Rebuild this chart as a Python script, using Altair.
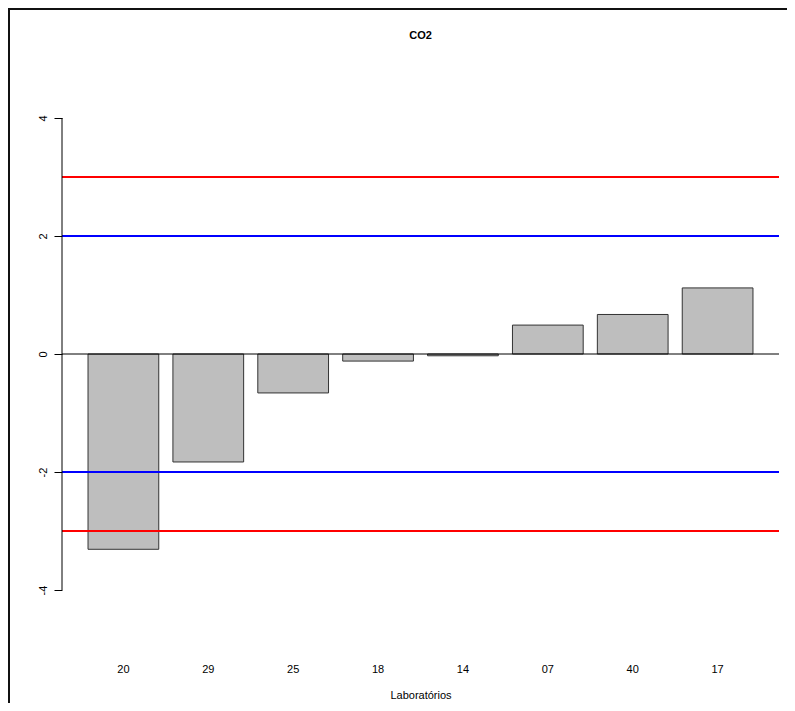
import altair as alt
import pandas as pd

labs = ["20", "29", "25", "18", "14", "07", "40", "17"]
vals = [-3.31, -1.83, -0.66, -0.12, -0.03, 0.49, 0.67, 1.12]
ref_vals = [3, -3, 2, -2]
ref_cols = ["#FF0000", "#FF0000", "#0000FF", "#0000FF"]
y_ticks = [-4, -2, 0, 2, 4]
title_text = "CO2"

W, H = 717, 590
PL, PT = 54, 51
FONT = "Liberation Sans"

bars_df = pd.DataFrame({"lab": labs, "val": vals})
ref_df = pd.DataFrame({"v": ref_vals, "c": ref_cols})

yscale = alt.Scale(domain=[-5, 5], nice=False, zero=False)
xscale = alt.Scale(domain=labs, paddingInner=0.1667, paddingOuter=0.3066)

bars = alt.Chart(bars_df).mark_bar(
    fill="#BEBEBE", stroke="#333333", strokeWidth=1
).encode(
    x=alt.X("lab:N", scale=xscale, sort=labs,
            axis=alt.Axis(title="Laboratórios", domain=False, ticks=False,
                          labelAngle=0, labelPadding=14, labelFontSize=11,
                          labelFont=FONT, labelColor="#000000",
                          titleFont=FONT, titleFontSize=11, titleFontWeight="normal",
                          titleColor="#000000", titlePadding=15)),
    y=alt.Y("val:Q", scale=yscale,
            axis=alt.Axis(title=None, values=y_ticks, domain=False, grid=False,
                          tickSize=8, tickColor="#000000", tickWidth=1,
                          labelAngle=270, labelAlign="center", labelBaseline="alphabetic",
                          labelPadding=8, labelFontSize=11, labelFont=FONT,
                          labelColor="#000000",
                          labelExpr="datum.value + ''")),
    y2=alt.datum(0),
)

refs = alt.Chart(ref_df).mark_rule(strokeWidth=2).encode(
    y=alt.Y("v:Q", scale=yscale),
    color=alt.Color("c:N", scale=None),
)

zero = alt.Chart(pd.DataFrame({"z": [0]})).mark_rule(color="#000000", strokeWidth=1).encode(
    y=alt.Y("z:Q", scale=yscale)
)

yaxis_line = alt.Chart(pd.DataFrame({"a": [-4], "b": [4]})).mark_rule(
    color="#000000", strokeWidth=1
).encode(
    x=alt.value(0),
    y=alt.Y("a:Q", scale=yscale),
    y2="b:Q",
)

title_mark = alt.Chart(pd.DataFrame({"t": [title_text]})).mark_text(
    font=FONT, fontSize=11, fontWeight="bold", color="#000000",
    align="center", baseline="middle"
).encode(
    x=alt.value(W / 2), y=alt.value(-23), text="t:N"
)

frame_top = alt.Chart(pd.DataFrame({"k": [0]})).mark_rule(color="#111111", strokeWidth=2).encode(
    x=alt.value(-PL), x2=alt.value(W + 8), y=alt.value(-PT + 1)
)
frame_left = alt.Chart(pd.DataFrame({"k": [0]})).mark_rule(color="#111111", strokeWidth=2).encode(
    x=alt.value(-PL + 1), y=alt.value(-PT), y2=alt.value(H + 54)
)

chart = alt.layer(bars, refs, zero, yaxis_line, title_mark, frame_top, frame_left).properties(
    width=W,
    height=H,
    background="#FFFFFF",
    padding={"left": PL, "top": PT, "right": 8, "bottom": 54},
    autosize=alt.AutoSizeParams(type="none"),
).configure_view(strokeWidth=0, stroke="transparent")

chart.save("out.html", embed_options={"renderer": "svg", "actions": False})
